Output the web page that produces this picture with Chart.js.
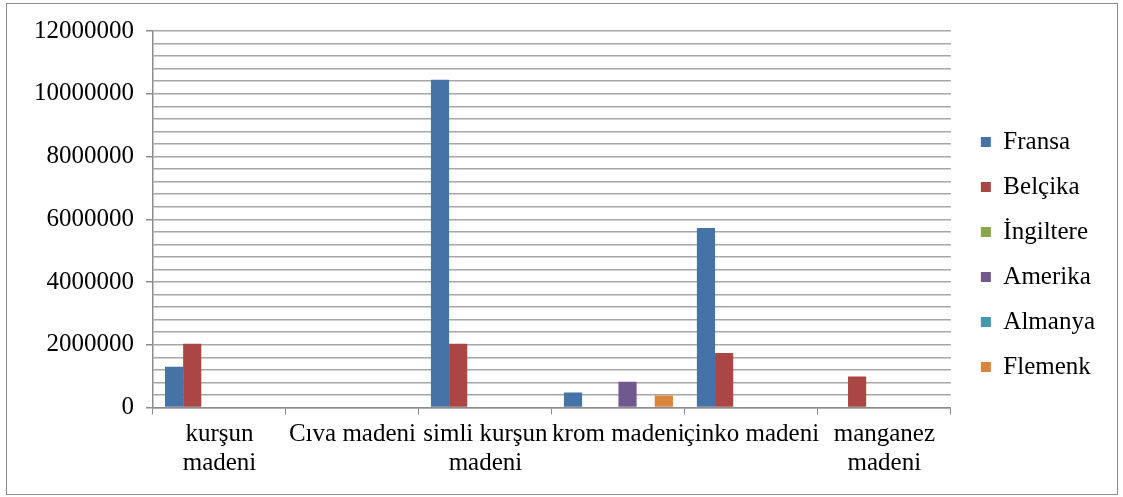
<!DOCTYPE html>
<html>
<head>
<meta charset="utf-8">
<script src="https://cdn.jsdelivr.net/npm/chart.js@4.4.0/dist/chart.umd.min.js"></script>
<style>
  body { margin: 0; background: #fff; }
  #frame {
    position: absolute; left: 6px; top: 3px;
    width: 1112px; height: 492px;
    border: 1px solid #8c8c8c; box-sizing: border-box;
  }
  canvas { display: block; }
</style>
</head>
<body>
<div id="frame"><canvas id="myChart" width="1110" height="490"></canvas></div>
<script>
const categories = [
  ["kurşun", "madeni"],
  "Cıva madeni",
  ["simli kurşun", "madeni"],
  "krom madeni",
  "çinko madeni",
  ["manganez", "madeni"],
];

const fransa    = [1300000, 0, 10450000, 480000, 5720000, 0];
const belcika   = [2030000, 0, 2030000, 0, 1740000, 990000];
const ingiltere = [0, 0, 0, 0, 0, 0];
const amerika   = [0, 0, 0, 820000, 0, 0];
const almanya   = [0, 0, 0, 0, 0, 0];
const flemenk   = [0, 0, 0, 380000, 0, 0];

const seriesNames = ["Fransa", "Belçika", "İngiltere", "Amerika", "Almanya", "Flemenk"];
const seriesColors = ["#4572A7", "#AA4643", "#89A54E", "#71588F", "#4198AF", "#DB843D"];

const yMax = 12000000;
const yMinorStep = 400000;
const yMajorStep = 2000000;

const serif = "'Liberation Serif', 'DejaVu Serif', serif";

const allSeries = [fransa, belcika, ingiltere, amerika, almanya, flemenk];

// mueve la leyenda un poco sin tocar el area del grafico
const legendShift = {
  id: "legendShift",
  afterLayout(chart) {
    const lg = chart.legend;
    if (!lg) return;
    lg.left += 10;
    lg.right += 10;
    lg.top += 4;
    lg.bottom += 4;
  },
};

const ctx = document.getElementById("myChart");
const chart = new Chart(ctx, {
  type: "bar",
  data: {
    labels: categories,
    datasets: allSeries.map((values, i) => ({
      label: seriesNames[i],
      data: values,
      backgroundColor: seriesColors[i],
      borderWidth: 0,
      categoryPercentage: 0.82,
      barPercentage: 1.0,
    })),
  },
  options: {
    responsive: false,
    animation: false,
    layout: { padding: { left: 15, right: 22, top: 13, bottom: 10 } },
    plugins: {
      tooltip: { enabled: false },
      legend: {
        position: "right",
        align: "center",
        labels: {
          color: "#000",
          font: { family: serif, size: 25 },
          boxWidth: 10,
          boxHeight: 10,
          padding: 20,
        },
      },
    },
    scales: {
      x: {
        offset: true,
        grid: {
          offset: true,
          drawOnChartArea: false,
          tickLength: 7,
          color: "#8c8c8c",
        },
        border: { color: "#8c8c8c", width: 1.5 },
        ticks: {
          color: "#000",
          font: { family: serif, size: 25, lineHeight: 1.15 },
          maxRotation: 0,
          autoSkip: false,
          padding: 6,
        },
      },
      y: {
        min: 0,
        max: yMax,
        border: { color: "#8c8c8c", width: 1.5 },
        grid: {
          color: "#a6a6a6",
          lineWidth: 1.5,
          tickLength: 7,
          tickColor: (c) => (c.tick && c.tick.value % yMajorStep === 0 ? "#8c8c8c" : "rgba(0,0,0,0)"),
        },
        ticks: {
          stepSize: yMinorStep,
          autoSkip: false,
          color: "#000",
          font: { family: serif, size: 25 },
          padding: 12,
          callback: (v) => (v % yMajorStep === 0 ? String(v) : ""),
        },
      },
    },
  },
  plugins: [legendShift],
});
</script>
</body>
</html>
